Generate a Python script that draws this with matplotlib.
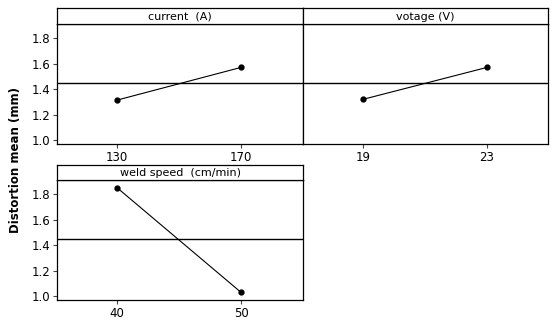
import matplotlib.pyplot as plt

# main effects data
factors = ['current  (A)', 'votage (V)', 'weld speed  (cm/min)']
levels = [[130, 170], [19, 23], [40, 50]]
means = [[1.314, 1.570], [1.320, 1.570], [1.850, 1.030]]
grand_mean = 1.445
xlims = [(110.6, 190.0), (17.06, 24.97), (35.16, 55.0)]
yticks = [1.0, 1.2, 1.4, 1.6, 1.8]

W, H = 552, 322
fig = plt.figure(figsize=(W / 100, H / 100), dpi=100)

def px(x0, y0, x1, y1):
    # pixel box -> figure fraction
    return [x0 / W, 1 - y1 / H, (x1 - x0) / W, (y1 - y0) / H]

boxes = [(57, 24, 303, 144), (303, 24, 548, 144), (57, 180, 303, 300)]
strips = [(57, 8, 303, 24), (303, 8, 548, 24), (57, 165, 303, 180)]

for i in range(3):
    ax = fig.add_axes(px(*boxes[i]))
    ax.plot(levels[i], means[i], color='black', lw=0.8, marker='o', markersize=3.5)
    ax.axhline(grand_mean, color='black', lw=1)
    ax.set_xlim(*xlims[i])
    ax.set_ylim(0.97, 1.91)
    ax.set_xticks(levels[i])
    ax.set_xticklabels([str(v) for v in levels[i]], fontsize=8.5)
    ax.tick_params(axis='both', direction='out', length=3, width=0.8, color='#444444', pad=2)
    if i == 1:
        ax.set_yticks([])
    else:
        ax.set_yticks(yticks)
        ax.set_yticklabels(['%.1f' % v for v in yticks], fontsize=8.5)
    for s in ax.spines.values():
        s.set_linewidth(0.9)

    st = fig.add_axes(px(*strips[i]))
    st.set_xticks([])
    st.set_yticks([])
    for s in st.spines.values():
        s.set_linewidth(0.9)
    st.text(0.5, 0.45, factors[i], ha='center', va='center', fontsize=8, transform=st.transAxes)

fig.text(16 / W, 1 - 160 / H, 'Distortion mean (mm)', rotation=90, ha='center', va='center',
         fontsize=8.5, fontweight='bold')

plt.savefig('out.png', dpi=100)
